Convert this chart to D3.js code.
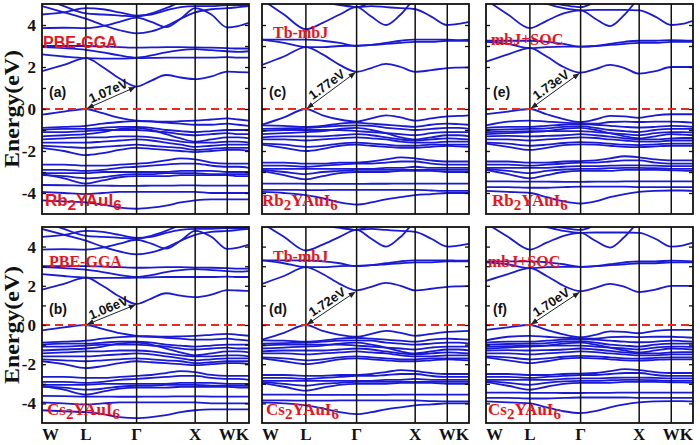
<!DOCTYPE html>
<html><head><meta charset="utf-8">
<script src="https://cdn.jsdelivr.net/npm/d3@7"></script>
<style>body{margin:0;background:#fff}</style>
</head><body><svg id="c" width="700" height="445"></svg>
<script>
// ---- data ----
const kLabels = ["W","L","Γ","X","W","K"];
const kTicks = [0, 0.212, 0.457, 0.740, 0.895, 1.0];
const kSamples = [0, 0.106, 0.212, 0.293, 0.375, 0.457, 0.528, 0.599, 0.670, 0.740, 0.818, 0.895, 0.948, 1.0];
const yTicks = [-4,-2,0,2,4];
const yMinorTicks = [-4,-3,-2,-1,0,1,2,3,4];

const ggaBands = [
 [1.8, 2.1, 2.42, 2.0, 1.45, 1.07, 1.35, 1.62, 1.5, 1.42, 1.55, 1.78, 1.76, 1.74],
 [2.6, 2.5, 2.42, 2.4, 2.4, 2.42, 2.43, 2.45, 2.45, 2.45, 2.45, 2.47, 2.45, 2.45],
 [2.95, 2.9, 2.82, 2.7, 2.55, 2.45, 2.55, 2.7, 2.8, 2.85, 2.8, 2.75, 2.72, 2.75],
 [3.0, 3.0, 3.0, 2.98, 2.95, 2.92, 2.93, 2.95, 2.95, 2.93, 2.92, 2.9, 2.88, 2.88],
 [3.85, 3.87, 3.85, 3.95, 4.15, 4.35, 4.15, 3.9, 4.3, 4.8, 4.5, 3.88, 3.95, 4.1],
 [4.9, 4.6, 4.3, 4.0, 3.75, 3.6, 3.7, 3.95, 4.3, 4.6, 4.75, 4.8, 4.85, 4.9],
 [5.3, 4.9, 4.55, 4.5, 4.45, 4.4, 4.55, 4.8, 5.1, 5.3, 5.3, 5.2, 5.1, 5.0],
 [4.5, 4.6, 4.8, 4.75, 4.6, 4.45, 4.5, 4.7, 4.85, 4.9, 4.9, 4.95, 4.95, 4.95],
 [-0.27, -0.12, 0, -0.2, -0.42, -0.55, -0.58, -0.6, -0.58, -0.55, -0.5, -0.45, -0.5, -0.55],
 [-0.9, -0.85, -0.8, -0.7, -0.62, -0.58, -0.6, -0.65, -0.7, -0.75, -0.75, -0.7, -0.75, -0.8],
 [-1.0, -0.95, -0.95, -0.9, -0.85, -0.85, -0.9, -1.0, -1.05, -1.1, -1.05, -1.0, -1.0, -1.0],
 [-1.1, -1.1, -1.05, -1.0, -1.0, -1.0, -1.05, -1.1, -1.2, -1.25, -1.2, -1.15, -1.2, -1.2],
 [-1.3, -1.25, -1.2, -1.1, -0.95, -0.9, -1.0, -1.2, -1.4, -1.55, -1.45, -1.35, -1.35, -1.4],
 [-1.45, -1.4, -1.35, -1.35, -1.3, -1.3, -1.35, -1.45, -1.55, -1.6, -1.6, -1.55, -1.55, -1.6],
 [-1.6, -1.6, -1.6, -1.55, -1.5, -1.45, -1.5, -1.6, -1.7, -1.8, -1.75, -1.7, -1.7, -1.7],
 [-1.75, -1.8, -1.85, -1.8, -1.75, -1.7, -1.75, -1.8, -1.85, -1.95, -1.9, -1.85, -1.85, -1.85],
 [-1.85, -2.0, -2.2, -2.1, -1.95, -1.85, -1.9, -1.95, -2.0, -2.05, -2.0, -1.95, -1.95, -2.0],
 [-2.65, -2.65, -2.7, -2.7, -2.65, -2.6, -2.55, -2.45, -2.35, -2.4, -2.55, -2.6, -2.6, -2.6],
 [-2.9, -2.9, -2.95, -2.9, -2.8, -2.75, -2.7, -2.65, -2.6, -2.6, -2.7, -2.75, -2.75, -2.8],
 [-3.05, -3.05, -3.05, -3.0, -3.0, -3.0, -3.0, -3.0, -2.95, -2.95, -2.95, -3.0, -3.0, -3.0],
 [-3.15, -3.2, -3.3, -3.25, -3.15, -3.1, -3.1, -3.05, -3.05, -3.05, -3.1, -3.1, -3.1, -3.1],
 [-3.1, -3.3, -3.55, -3.4, -3.25, -3.2, -3.2, -3.2, -3.15, -3.15, -3.15, -3.15, -3.2, -3.2],
 [-3.62, -3.63, -3.65, -3.65, -3.66, -3.66, -3.65, -3.65, -3.64, -3.64, -3.65, -3.65, -3.65, -3.65],
 [-3.95, -4.0, -4.05, -4.0, -3.95, -3.95, -3.95, -3.95, -3.95, -3.95, -4.0, -4.0, -4.0, -4.0],
 [-4.35, -4.4, -4.45, -4.55, -4.7, -4.75, -4.7, -4.6, -4.45, -4.35, -4.3, -4.3, -4.3, -4.3]
];

const mbjBands = [
 [2.1, 2.5, 2.95, 2.6, 2.1, 1.77, 1.95, 2.15, 2.0, 1.77, 1.85, 1.95, 1.97, 1.98],
 [3.3, 3.15, 2.95, 2.95, 3.0, 3.02, 3.05, 3.1, 3.15, 3.2, 3.2, 3.25, 3.25, 3.25],
 [3.3, 3.3, 3.3, 3.25, 3.15, 3.0, 3.05, 3.15, 3.25, 3.3, 3.3, 3.3, 3.28, 3.3],
 [5.2, 4.5, 3.8, 4.1, 4.5, 4.85, 4.4, 4.0, 4.5, 5.2, 5.3, 5.3, 5.3, 5.3],
 [5.4, 5.3, 5.2, 5.1, 5.0, 4.85, 4.9, 4.85, 4.8, 4.75, 4.4, 4.0, 4.05, 4.15],
 [5.5, 5.4, 5.3, 5.1, 4.95, 4.85, 5.1, 5.4, 5.5, 5.5, 5.5, 5.5, 5.5, 5.5],
 [-0.75, -0.4, 0, -0.3, -0.5, -0.6, -0.45, -0.3, -0.4, -0.55, -0.45, -0.35, -0.33, -0.3],
 [-0.78, -0.8, -0.85, -0.8, -0.7, -0.65, -0.7, -0.75, -0.8, -0.85, -0.75, -0.7, -0.72, -0.75],
 [-0.95, -0.92, -0.9, -0.85, -0.8, -0.78, -0.8, -0.9, -0.95, -1.0, -0.95, -0.9, -0.9, -0.95],
 [-1.05, -1.0, -1.0, -1.0, -1.0, -1.05, -1.1, -1.15, -1.2, -1.25, -1.15, -1.1, -1.1, -1.1],
 [-1.2, -1.15, -1.1, -1.05, -0.95, -0.9, -1.0, -1.15, -1.35, -1.45, -1.35, -1.25, -1.25, -1.3],
 [-1.35, -1.3, -1.3, -1.3, -1.25, -1.2, -1.25, -1.35, -1.45, -1.5, -1.45, -1.4, -1.42, -1.45],
 [-1.45, -1.45, -1.5, -1.45, -1.4, -1.35, -1.4, -1.45, -1.55, -1.6, -1.6, -1.55, -1.55, -1.55],
 [-1.65, -1.7, -1.8, -1.75, -1.65, -1.6, -1.65, -1.7, -1.75, -1.75, -1.7, -1.7, -1.7, -1.7],
 [-1.7, -1.85, -2.0, -1.9, -1.75, -1.7, -1.75, -1.8, -1.85, -1.85, -1.8, -1.75, -1.78, -1.8],
 [-2.55, -2.55, -2.6, -2.6, -2.55, -2.55, -2.5, -2.4, -2.3, -2.35, -2.45, -2.5, -2.5, -2.5],
 [-2.7, -2.7, -2.75, -2.7, -2.65, -2.6, -2.6, -2.55, -2.5, -2.5, -2.6, -2.65, -2.65, -2.65],
 [-2.85, -2.85, -2.85, -2.85, -2.85, -2.85, -2.85, -2.8, -2.8, -2.75, -2.8, -2.8, -2.8, -2.8],
 [-2.9, -3.0, -3.1, -3.0, -2.95, -2.9, -2.9, -2.9, -2.9, -2.9, -2.9, -2.9, -2.9, -2.9],
 [-2.95, -3.15, -3.35, -3.2, -3.05, -3.0, -3.0, -3.0, -2.95, -2.95, -2.95, -3.0, -3.0, -3.0],
 [-3.55, -3.55, -3.56, -3.57, -3.57, -3.57, -3.56, -3.56, -3.55, -3.55, -3.55, -3.55, -3.55, -3.55],
 [-3.85, -3.85, -3.86, -3.86, -3.85, -3.85, -3.85, -3.85, -3.85, -3.85, -3.88, -3.9, -3.9, -3.9],
 [-3.95, -4.0, -4.1, -4.25, -4.45, -4.55, -4.45, -4.3, -4.2, -4.1, -4.05, -4.0, -4.0, -4.0]
];

const socBands = [
 [2.25, 2.6, 2.9, 2.5, 2.0, 1.73, 1.9, 2.1, 1.95, 1.68, 1.8, 2.0, 2.0, 2.0],
 [3.2, 3.1, 2.9, 2.95, 2.97, 2.97, 3.0, 3.05, 3.1, 3.15, 3.15, 3.2, 3.2, 3.2],
 [3.25, 3.25, 3.25, 3.2, 3.1, 2.97, 3.0, 3.1, 3.2, 3.25, 3.25, 3.28, 3.27, 3.25],
 [5.2, 4.5, 3.85, 4.2, 4.55, 4.7, 4.3, 3.95, 4.5, 5.2, 5.3, 5.3, 5.3, 5.3],
 [5.4, 5.3, 5.2, 5.0, 4.8, 4.7, 4.72, 4.72, 4.72, 4.7, 4.4, 4.0, 4.05, 4.2],
 [5.5, 5.4, 5.3, 5.1, 4.95, 4.85, 5.1, 5.4, 5.5, 5.5, 5.5, 5.5, 5.5, 5.5],
 [-0.25, -0.12, 0, -0.25, -0.48, -0.62, -0.5, -0.33, -0.35, -0.42, -0.3, -0.25, -0.25, -0.25],
 [-0.78, -0.6, -0.55, -0.6, -0.65, -0.68, -0.7, -0.62, -0.6, -0.62, -0.6, -0.6, -0.62, -0.65],
 [-0.9, -0.85, -0.85, -0.8, -0.75, -0.72, -0.75, -0.8, -0.85, -0.88, -0.85, -0.8, -0.82, -0.85],
 [-1.0, -0.97, -0.95, -0.92, -0.85, -0.82, -0.9, -1.0, -1.05, -1.1, -1.0, -0.95, -0.95, -0.95],
 [-1.1, -1.08, -1.05, -1.05, -1.05, -1.05, -1.1, -1.15, -1.2, -1.25, -1.15, -1.1, -1.1, -1.12],
 [-1.2, -1.15, -1.1, -1.05, -0.95, -0.9, -1.0, -1.15, -1.3, -1.4, -1.3, -1.2, -1.22, -1.25],
 [-1.3, -1.28, -1.3, -1.28, -1.25, -1.2, -1.25, -1.32, -1.4, -1.45, -1.45, -1.4, -1.38, -1.38],
 [-1.45, -1.45, -1.5, -1.45, -1.4, -1.35, -1.38, -1.45, -1.5, -1.55, -1.55, -1.5, -1.5, -1.5],
 [-1.6, -1.65, -1.75, -1.7, -1.62, -1.58, -1.6, -1.65, -1.7, -1.72, -1.68, -1.65, -1.65, -1.65],
 [-1.65, -1.8, -1.95, -1.85, -1.72, -1.68, -1.7, -1.75, -1.8, -1.82, -1.78, -1.75, -1.75, -1.75],
 [-2.5, -2.5, -2.55, -2.55, -2.5, -2.48, -2.45, -2.35, -2.25, -2.3, -2.4, -2.45, -2.45, -2.45],
 [-2.65, -2.65, -2.7, -2.65, -2.6, -2.55, -2.55, -2.5, -2.45, -2.45, -2.55, -2.6, -2.6, -2.6],
 [-2.8, -2.8, -2.8, -2.8, -2.75, -2.72, -2.72, -2.7, -2.68, -2.68, -2.7, -2.72, -2.72, -2.72],
 [-2.85, -2.95, -3.05, -2.95, -2.88, -2.85, -2.85, -2.82, -2.8, -2.8, -2.82, -2.85, -2.85, -2.85],
 [-2.9, -3.1, -3.3, -3.15, -3.0, -2.95, -2.95, -2.95, -2.9, -2.9, -2.9, -2.92, -2.93, -2.95],
 [-3.45, -3.45, -3.46, -3.46, -3.47, -3.47, -3.46, -3.46, -3.45, -3.45, -3.45, -3.45, -3.45, -3.45],
 [-3.72, -3.72, -3.75, -3.75, -3.72, -3.7, -3.7, -3.7, -3.7, -3.72, -3.72, -3.72, -3.72, -3.72],
 [-3.9, -3.95, -4.0, -4.2, -4.4, -4.5, -4.4, -4.2, -4.05, -3.95, -3.9, -3.88, -3.88, -3.9]
];

const gapValues = [1.07, 1.06, 1.77, 1.72, 1.73, 1.70];
const gapLabels = ["1.07eV","1.06eV","1.77eV","1.72eV","1.73eV","1.70eV"];
const panelLetters = ["(a)","(b)","(c)","(d)","(e)","(f)"];
const methodLabels = ["PBE-GGA","PBE-GGA","Tb-mbJ","Tb-mbJ","mbJ+SOC","mbJ+SOC"];
const compoundLabels = [["Rb","2","YAuI","6"],["Cs","2","YAuI","6"],["Rb","2","YAuI","6"],["Cs","2","YAuI","6"],["Rb","2","YAuI","6"],["Cs","2","YAuI","6"]];
const bandSets = [ggaBands, ggaBands, mbjBands, mbjBands, socBands, socBands];

// ---- layout ----
const SERIF = "'Liberation Serif','Times New Roman',serif";
const SANS = "'Liberation Sans',Arial,sans-serif";
const colX = [42, 262, 486];
const panelW = 207;
const rowY = [[4, 214], [227, 423]];
const layout = [
 {c:0,r:0, mx:1, my:2.9, mfont:SANS, cx:3, cfont:SANS},
 {c:0,r:1, mx:7, my:2.96, mfont:SERIF, cx:5, cfont:SERIF},
 {c:1,r:0, mx:11, my:3.38, mfont:SERIF, cx:0, cfont:SERIF},
 {c:1,r:1, mx:11, my:3.2, mfont:SERIF, cx:4, cfont:SERIF},
 {c:2,r:0, mx:5, my:3.05, mfont:SERIF, cx:6, cfont:SERIF},
 {c:2,r:1, mx:2, my:2.96, mfont:SERIF, cx:2, cfont:SERIF}
];

const svg = d3.select("#c");
const defs = svg.append("defs");
defs.append("marker").attr("id","ah").attr("viewBox","0 0 10 10").attr("refX",10).attr("refY",5)
  .attr("markerWidth",7).attr("markerHeight",7).attr("orient","auto-start-reverse").attr("markerUnits","userSpaceOnUse")
  .append("path").attr("d","M0,1 L10,5 L0,9 z").attr("fill","#222");

layout.forEach((L, i) => {
  const x0 = colX[L.c], [yt, yb] = rowY[L.r];
  const x = d3.scaleLinear().domain([0,1]).range([x0, x0+panelW]);
  const y = d3.scaleLinear().domain([-5,5]).range([yb, yt]);
  const g = svg.append("g");
  defs.append("clipPath").attr("id","clip"+i).append("rect")
    .attr("x",x0).attr("y",yt).attr("width",panelW).attr("height",yb-yt);

  const line = d3.line().x((d,j)=>x(kSamples[j])).y(d=>y(d)).curve(d3.curveMonotoneX);
  const gb = g.append("g").attr("clip-path","url(#clip"+i+")");
  gb.selectAll("path.band").data(bandSets[i]).join("path").attr("class","band")
    .attr("d", line).attr("fill","none").attr("stroke","#1a1ad6").attr("stroke-width",1.8);

  // high-symmetry lines
  g.selectAll("line.k").data(kTicks.slice(1,-1)).join("line").attr("class","k")
    .attr("x1",d=>x(d)).attr("x2",d=>x(d)).attr("y1",yt).attr("y2",yb)
    .attr("stroke","#111").attr("stroke-width",1.5);

  // Fermi level
  g.append("line").attr("x1",x0).attr("x2",x0+panelW).attr("y1",y(0)).attr("y2",y(0))
    .attr("stroke","#ea2a1e").attr("stroke-width",1.8).attr("stroke-dasharray","8,5");

  // ticks
  const axL = g.append("g").attr("transform",`translate(${x0},0)`)
    .call(d3.axisLeft(y).tickValues(yMinorTicks).tickSize(-4).tickFormat(""));
  const axR = g.append("g").attr("transform",`translate(${x0+panelW},0)`)
    .call(d3.axisRight(y).tickValues(yMinorTicks).tickSize(-4).tickFormat(""));
  [axL, axR].forEach(a => { a.select(".domain").remove(); a.selectAll("line").attr("stroke","#111").attr("stroke-width",1.3); });

  // frame
  g.append("rect").attr("x",x0).attr("y",yt).attr("width",panelW).attr("height",yb-yt)
    .attr("fill","none").attr("stroke","#111").attr("stroke-width",1.8);

  // y tick labels for first column
  if (L.c === 0) {
    const lab = g.append("g").attr("transform",`translate(${x0},0)`)
      .call(d3.axisLeft(y).tickValues(yTicks).tickSize(0).tickPadding(6).tickFormat(d=>d));
    lab.select(".domain").remove();
    lab.selectAll("text").attr("font-family",SERIF).attr("font-weight","bold").attr("font-size",17).attr("fill","#111");
    g.append("text").attr("transform",`translate(19,${y(0)}) rotate(-90)`)
      .attr("text-anchor","middle").attr("font-family",SERIF).attr("font-weight","bold")
      .attr("font-size",20).attr("textLength",118).attr("lengthAdjust","spacingAndGlyphs")
      .attr("fill","#111").text("Energy(eV)");
  }

  // k labels for bottom row
  if (L.r === 1) {
    g.selectAll("text.kl").data(kLabels).join("text").attr("class","kl")
      .attr("x",(d,j)=> x(kTicks[j]))
      .attr("y",440)
      .attr("text-anchor",(d,j)=> j===0 ? "start" : (j===kLabels.length-1 ? "end" : "middle"))
      .attr("font-family",SERIF).attr("font-weight","bold").attr("font-size",17).attr("fill","#111")
      .text(d=>d);
  }

  // gap arrow
  const p1 = [x(kTicks[1]), y(0)], p2 = [x(kTicks[2]), y(gapValues[i])];
  g.append("line").attr("x1",p1[0]+1).attr("y1",p1[1]-0.5).attr("x2",p2[0]-1).attr("y2",p2[1]+0.5)
    .attr("stroke","#222").attr("stroke-width",1)
    .attr("marker-start","url(#ah)").attr("marker-end","url(#ah)");
  const ang = Math.atan2(p2[1]-p1[1], p2[0]-p1[0]) * 180/Math.PI;
  const mx = (p1[0]+p2[0])/2, my = (p1[1]+p2[1])/2;
  g.append("text").attr("transform",`translate(${mx},${my}) rotate(${ang})`)
    .attr("y",-3).attr("text-anchor","middle").attr("font-family",SANS).attr("font-weight","bold").attr("font-size",13)
    .attr("fill","#111").text(gapLabels[i]);

  // panel letter
  g.append("text").attr("x",x0+7).attr("y",y(0.57)).attr("font-family",SANS).attr("font-weight","bold")
    .attr("font-size",14).attr("fill","#111").text(panelLetters[i]);

  // method label
  g.append("text").attr("x",x0+L.mx).attr("y",y(L.my)).attr("font-family",L.mfont).attr("font-weight","bold")
    .attr("font-size",16).attr("fill","#e8141c").text(methodLabels[i]);

  // compound label
  const cl = compoundLabels[i];
  const t = g.append("text").attr("x",x0+L.cx).attr("y",y(-4.6)).attr("font-family",L.cfont).attr("font-weight","bold")
    .attr("font-size",17).attr("fill","#e8141c");
  t.append("tspan").text(cl[0]);
  t.append("tspan").attr("dy",4).attr("font-size",15).text(cl[1]);
  t.append("tspan").attr("dy",-4).text(cl[2]);
  t.append("tspan").attr("dy",4).attr("font-size",15).text(cl[3]);
});
</script>
</body></html>
